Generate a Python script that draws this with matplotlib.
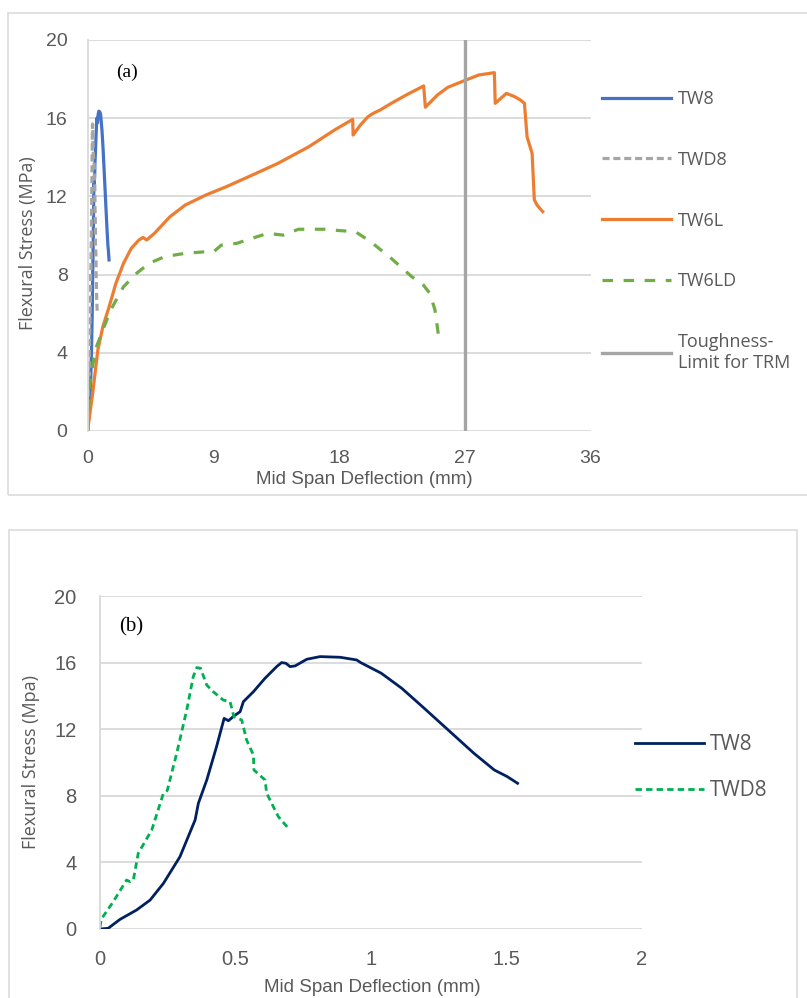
import matplotlib
matplotlib.use("Agg")
import matplotlib.pyplot as plt
from matplotlib.patches import Rectangle

# ---- data ----
# TW8 / TWD8 share the same curves in both panels
tw8_x = [0, 0.03, 0.074, 0.135, 0.185, 0.234, 0.295, 0.351, 0.363, 0.394, 0.43, 0.458,
         0.474, 0.494, 0.517, 0.529, 0.566, 0.609, 0.652, 0.670, 0.686, 0.701, 0.720,
         0.763, 0.812, 0.886, 0.947, 0.962, 1.038, 1.114, 1.190, 1.285, 1.380, 1.455,
         1.503, 1.541]
tw8_y = [0, 0.04, 0.58, 1.14, 1.74, 2.74, 4.34, 6.55, 7.55, 8.95, 10.95, 12.65,
         12.51, 12.79, 13.05, 13.65, 14.25, 15.06, 15.76, 16.0, 15.96, 15.76, 15.8,
         16.2, 16.36, 16.32, 16.16, 16.0, 15.36, 14.45, 13.35, 11.95, 10.55, 9.55,
         9.15, 8.75]

twd8_x = [0, 0.005, 0.049, 0.098, 0.111, 0.123, 0.141, 0.191, 0.234, 0.248, 0.283,
          0.320, 0.344, 0.357, 0.371, 0.394, 0.418, 0.455, 0.48, 0.494, 0.523, 0.541,
          0.566, 0.568, 0.609, 0.615, 0.658, 0.695]
twd8_y = [0.1, 0.6, 1.64, 2.94, 2.84, 2.94, 4.54, 5.95, 8.15, 8.31, 10.55,
          13.15, 15.15, 15.7, 15.66, 14.65, 14.25, 13.75, 13.65, 12.75, 12.55, 11.35,
          10.45, 9.55, 8.95, 8.15, 6.75, 6.05]

tw6l_x = [0, 0.37, 0.74, 1.1, 1.55, 2.03, 2.58, 3.13, 3.68, 3.98, 4.24, 4.79, 5.9, 7.0,
          8.47, 9.95, 11.79, 13.63, 15.84, 17.69, 18.98, 19.01, 19.53, 20.08, 20.45,
          20.95, 21.74, 22.84, 24.06, 24.18, 25.05, 25.79, 26.9, 28.0, 29.12, 29.18,
          29.98, 30.58, 30.98, 31.27, 31.46, 31.82, 31.98, 32.17, 32.58]
tw6l_y = [0, 1.93, 4.14, 5.34, 6.36, 7.55, 8.58, 9.34, 9.77, 9.9, 9.77, 10.11, 10.96,
          11.56, 12.07, 12.5, 13.09, 13.69, 14.54, 15.4, 15.94, 15.14, 15.65, 16.08,
          16.25, 16.42, 16.76, 17.2, 17.65, 16.56, 17.19, 17.58, 17.9, 18.21, 18.33,
          16.76, 17.27, 17.1, 16.93, 16.76, 15.05, 14.2, 11.82, 11.56, 11.22]

tw6ld_x = [0, 0.18, 0.55, 1.1, 1.66, 2.58, 3.5, 4.42, 5.53, 7.0, 8.47, 9.03, 9.58,
           10.69, 11.79, 12.9, 14.0, 15.1, 16.95, 18.05, 19.16, 20.27, 21.74, 23.21,
           23.95, 24.5, 24.87, 25.13]
tw6ld_y = [0, 2.44, 4.14, 5.17, 6.19, 7.38, 8.06, 8.58, 8.92, 9.09, 9.17, 9.17, 9.51,
           9.6, 9.86, 10.11, 10.02, 10.32, 10.32, 10.25, 10.2, 9.68, 8.83, 7.89,
           7.55, 7.04, 6.19, 4.83]

toughness_limit = 27

top_xticks = [0, 9, 18, 27, 36]
bot_xticks = [0, 0.5, 1, 1.5, 2]
bot_xticklabels = ["0", "0.5", "1", "1.5", "2"]
yticks = [0, 4, 8, 12, 16, 20]

GRID = "#D9D9D9"
TXT = "#595959"
TICKFONT = "Liberation Sans"
LBLFONT = "Open Sans"

W, H = 807, 998
fig = plt.figure(figsize=(W / 100, H / 100), dpi=100)

# chart frames
fig.add_artist(Rectangle((8 / W, 1 - 495 / H), 1.1, (495 - 13) / H, transform=fig.transFigure,
                         fill=False, edgecolor=GRID, lw=1.1))
fig.add_artist(Rectangle((9 / W, -0.05), (797 - 9) / W, 1 - 530 / H + 0.05,
                         transform=fig.transFigure, fill=False, edgecolor=GRID, lw=1.1))


def style_axes(ax, xpad, ypad):
    for s in ax.spines.values():
        s.set_visible(False)
    ax.spines["left"].set_visible(True)
    ax.spines["left"].set_color(GRID)
    ax.spines["left"].set_linewidth(1.3)
    ax.yaxis.grid(True, color=GRID, lw=1.3)
    ax.set_axisbelow(True)
    ax.tick_params(length=0, colors=TXT, labelsize=13.5)
    ax.tick_params(axis="x", pad=xpad)
    ax.tick_params(axis="y", pad=ypad)
    for lab in ax.get_xticklabels() + ax.get_yticklabels():
        lab.set_fontfamily(TICKFONT)


# ---- (a) ----
ax1 = fig.add_axes([87.5 / W, 1 - 431 / H, 503 / W, 391 / H])
ax1.plot(tw8_x, tw8_y, color="#4472C4", lw=2.3, label="TW8")
ax1.plot(twd8_x, twd8_y, color="#A5A5A5", lw=2.3, ls=(0, (2.2, 1.2)), label="TWD8")
ax1.plot(tw6l_x, tw6l_y, color="#ED7D31", lw=2.3, label="TW6L")
ax1.plot(tw6ld_x, tw6ld_y, color="#70AD47", lw=2.3, ls=(0, (3.3, 3.3)), label="TW6LD")
ax1.axvline(toughness_limit, color="#A5A5A5", lw=2.4, label="Toughness-\nLimit for TRM")
ax1.set_xlim(0, 36)
ax1.set_ylim(0, 20)
ax1.set_xticks(top_xticks)
ax1.set_yticks(yticks)
style_axes(ax1, 13.4, 14.4)
ax1.tick_params(labelsize=14)
ax1.set_xlabel("Mid Span Deflection (mm)", fontfamily=TICKFONT, fontsize=13.5, color=TXT, va="center")
ax1.xaxis.set_label_coords((364 - 87.5) / 503, (431 - 480) / 391)
ax1.set_ylabel("Flexural Stress (MPa)", fontfamily=LBLFONT, fontsize=13, color=TXT, va="center")
ax1.yaxis.set_label_coords((28 - 87.5) / 503, (431 - 243) / 391)
ax1.text(0.0785, 0.918, "(a)", transform=ax1.transAxes, ha="center", va="center",
         fontfamily="Liberation Serif", fontsize=14, color="black")
leg1 = ax1.legend(loc="upper left", bbox_to_anchor=(602 / W, 1 - 90 / H),
                  bbox_transform=fig.transFigure, frameon=False, borderpad=0, borderaxespad=0,
                  prop={"family": LBLFONT, "size": 13}, handlelength=3.82, handletextpad=0.39,
                  labelspacing=2.37, labelcolor=TXT)

# ---- (b) ----
ax2 = fig.add_axes([100 / W, 1 - 929 / H, 542 / W, 333 / H])
ax2.plot(tw8_x, tw8_y, color="#002060", lw=2.0, label="TW8")
ax2.plot(twd8_x, twd8_y, color="#00B050", lw=2.0, ls=(0, (2.3, 1.5)), label="TWD8")
ax2.set_xlim(0, 2)
ax2.set_ylim(0, 20)
ax2.set_xticks(bot_xticks)
ax2.set_xticklabels(bot_xticklabels)
ax2.set_yticks(yticks)
style_axes(ax2, 15, 17)
ax2.tick_params(labelsize=14.5)
ax2.set_xlabel("Mid Span Deflection (mm)", fontfamily=TICKFONT, fontsize=13.5, color=TXT, va="center")
ax2.xaxis.set_label_coords((372.5 - 100) / 542, (929 - 988) / 333)
ax2.set_ylabel("Flexural Stress (Mpa)", fontfamily=LBLFONT, fontsize=13, color=TXT, va="center")
ax2.yaxis.set_label_coords((31 - 100) / 542, (929 - 762) / 333)
ax2.text(0.057, 0.907, "(b)", transform=ax2.transAxes, ha="center", va="center",
         fontfamily="Liberation Serif", fontsize=15, color="black")
leg2 = ax2.legend(loc="upper left", bbox_to_anchor=(635 / W, 1 - 734 / H),
                  bbox_transform=fig.transFigure, frameon=False, borderpad=0, borderaxespad=0,
                  prop={"family": LBLFONT, "size": 15}, handlelength=3.3, handletextpad=0.3,
                  labelspacing=1.2, labelcolor=TXT)

fig.savefig("out.png", dpi=100)
